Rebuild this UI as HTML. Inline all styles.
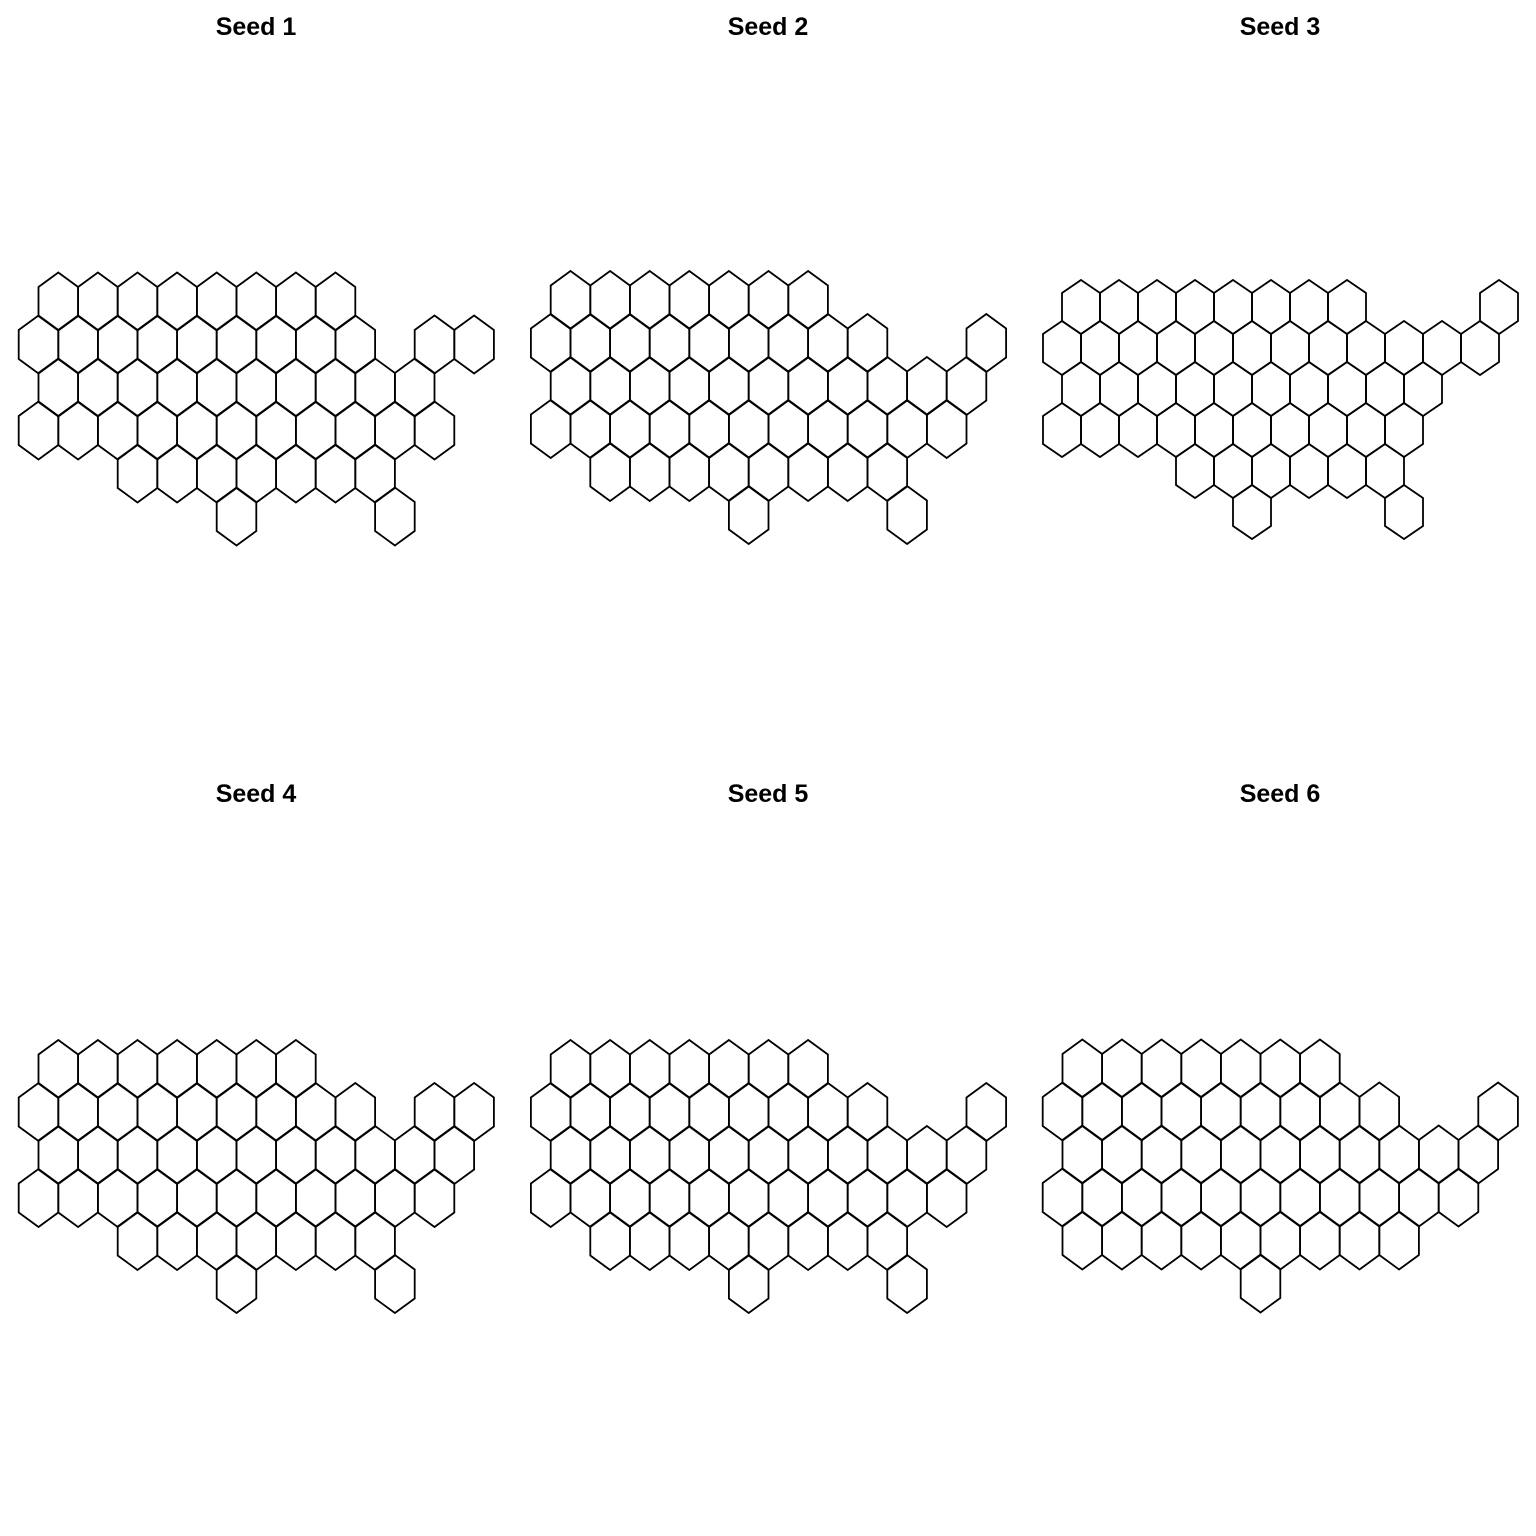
<!DOCTYPE html>
<html><head><meta charset="utf-8"><style>
html,body{margin:0;padding:0;background:#fff;}
svg{display:block;}
text{font-family:"Liberation Sans",sans-serif;font-weight:bold;font-size:25px;}
</style></head><body>
<svg id="chart" width="1536" height="1536" viewBox="0 0 1536 1536" xmlns="http://www.w3.org/2000/svg">
<rect width="1536" height="1536" fill="#fff"/>
</svg>
<script>
// Each panel: hex cells as [row, halfColumn]
const seed1Cells = [[0,1],[0,3],[0,5],[0,7],[0,9],[0,11],[0,13],[0,15],
 [1,0],[1,2],[1,4],[1,6],[1,8],[1,10],[1,12],[1,14],[1,16],[1,20],[1,22],
 [2,1],[2,3],[2,5],[2,7],[2,9],[2,11],[2,13],[2,15],[2,17],[2,19],
 [3,0],[3,2],[3,4],[3,6],[3,8],[3,10],[3,12],[3,14],[3,16],[3,18],[3,20],
 [4,5],[4,7],[4,9],[4,11],[4,13],[4,15],[4,17],
 [5,10],[5,18]];
const seed2Cells = [[0,1],[0,3],[0,5],[0,7],[0,9],[0,11],[0,13],
 [1,0],[1,2],[1,4],[1,6],[1,8],[1,10],[1,12],[1,14],[1,16],[1,22],
 [2,1],[2,3],[2,5],[2,7],[2,9],[2,11],[2,13],[2,15],[2,17],[2,19],[2,21],
 [3,0],[3,2],[3,4],[3,6],[3,8],[3,10],[3,12],[3,14],[3,16],[3,18],[3,20],
 [4,3],[4,5],[4,7],[4,9],[4,11],[4,13],[4,15],[4,17],
 [5,10],[5,18]];
const seed3Cells = [[0,1],[0,3],[0,5],[0,7],[0,9],[0,11],[0,13],[0,15],[0,23],
 [1,0],[1,2],[1,4],[1,6],[1,8],[1,10],[1,12],[1,14],[1,16],[1,18],[1,20],[1,22],
 [2,1],[2,3],[2,5],[2,7],[2,9],[2,11],[2,13],[2,15],[2,17],[2,19],
 [3,0],[3,2],[3,4],[3,6],[3,8],[3,10],[3,12],[3,14],[3,16],[3,18],
 [4,7],[4,9],[4,11],[4,13],[4,15],[4,17],
 [5,10],[5,18]];
const seed4Cells = [[0,1],[0,3],[0,5],[0,7],[0,9],[0,11],[0,13],
 [1,0],[1,2],[1,4],[1,6],[1,8],[1,10],[1,12],[1,14],[1,16],[1,20],[1,22],
 [2,1],[2,3],[2,5],[2,7],[2,9],[2,11],[2,13],[2,15],[2,17],[2,19],[2,21],
 [3,0],[3,2],[3,4],[3,6],[3,8],[3,10],[3,12],[3,14],[3,16],[3,18],[3,20],
 [4,5],[4,7],[4,9],[4,11],[4,13],[4,15],[4,17],
 [5,10],[5,18]];
const seed5Cells = seed2Cells.map(c => c.slice());
const seed6Cells = [[0,1],[0,3],[0,5],[0,7],[0,9],[0,11],[0,13],
 [1,0],[1,2],[1,4],[1,6],[1,8],[1,10],[1,12],[1,14],[1,16],[1,22],
 [2,1],[2,3],[2,5],[2,7],[2,9],[2,11],[2,13],[2,15],[2,17],[2,19],[2,21],
 [3,0],[3,2],[3,4],[3,6],[3,8],[3,10],[3,12],[3,14],[3,16],[3,18],[3,20],
 [4,1],[4,3],[4,5],[4,7],[4,9],[4,11],[4,13],[4,15],[4,17],
 [5,10]];
const panelTitles = ["Seed 1","Seed 2","Seed 3","Seed 4","Seed 5","Seed 6"];
const panelCells = [seed1Cells,seed2Cells,seed3Cells,seed4Cells,seed5Cells,seed6Cells];

const NS = "http://www.w3.org/2000/svg";
const svg = document.getElementById('chart');
// per-panel geometry (layout, not data)
const geo = [
 {tx:256,ty:35,x0:38.5,y0:301.5,dx:19.8,dy:43,hh:29,hs:14.5},
 {tx:768,ty:35,x0:550.7,y0:300,dx:19.8,dy:43,hh:29,hs:14.5},
 {tx:1280,ty:35,x0:1062,y0:307,dx:19,dy:41,hh:27,hs:14},
 {tx:256,ty:802,x0:38.5,y0:1069,dx:19.8,dy:43,hh:29,hs:14.5},
 {tx:768,ty:802,x0:550.7,y0:1069,dx:19.8,dy:43,hh:29,hs:14.5},
 {tx:1280,ty:802,x0:1062.5,y0:1068.5,dx:19.8,dy:43,hh:29,hs:14.5}
];
panelCells.forEach((cells,i)=>{
  const g = geo[i];
  const grp = document.createElementNS(NS,'g');
  
  
  const t = document.createElementNS(NS,'text');
  
  
  t.setAttribute('x',g.tx); t.setAttribute('y',g.ty);
  t.setAttribute('text-anchor','middle');
  t.textContent = panelTitles[i];
  grp.appendChild(t);
  const xs = c => g.x0 + c*g.dx;
  const ys = r => g.y0 + r*g.dy;
  cells.forEach(([r,c])=>{
    const cx = xs(c), cy = ys(r), w = g.dx;
    const pts = [[cx,cy-g.hh],[cx+w,cy-g.hs],[cx+w,cy+g.hs],[cx,cy+g.hh],[cx-w,cy+g.hs],[cx-w,cy-g.hs]]
      .map(p=>p[0].toFixed(1)+','+p[1].toFixed(1)).join(' ');
    const p = document.createElementNS(NS,'polygon');
    
    
    p.setAttribute('points',pts);
    p.setAttribute('fill','none');
    p.setAttribute('stroke','#000');
    p.setAttribute('stroke-width','1.8');
    p.setAttribute('stroke-linejoin','miter');
    grp.appendChild(p);
  });
  svg.appendChild(grp);
});
</script>
</body></html>
